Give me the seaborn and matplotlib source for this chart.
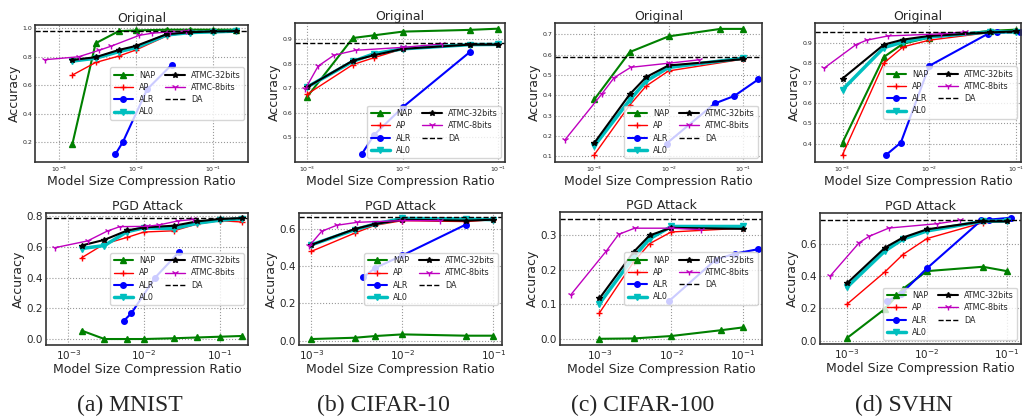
import pandas as pd
import seaborn as sns
import matplotlib.pyplot as plt

# ---- compression ratios (x) ----
mnist_x = [1.5e-3, 3e-3, 6e-3, 1e-2, 2.5e-2, 5e-2, 1e-1, 2e-1]
mnist_alr_x = [5.4e-3, 6.8e-3, 1.4e-2, 2.9e-2]
mnist_8b_x = [6.7e-4, 1.8e-3, 3.3e-3, 4.8e-3, 1.1e-2, 1.6e-2, 2.8e-2, 4.5e-2]

cifar10_x = [1e-3, 3e-3, 5e-3, 1e-2, 5e-2, 1e-1]
cifar10_alr_x = [3.7e-3, 5e-3, 1e-2, 5e-2]
cifar10_8b_x = [9.5e-4, 1.3e-3, 1.9e-3, 3.2e-3, 1e-2, 2.6e-2]

cifar100_x = [1e-3, 3e-3, 5e-3, 1e-2, 1e-1]
cifar100_nap_x = [1e-3, 3e-3, 1e-2, 5e-2, 1e-1]
cifar100_alr_x = [9.4e-3, 4.2e-2, 7.7e-2, 1.63e-1]
cifar100_8b_x = [4e-4, 1.25e-3, 1.85e-3, 3.1e-3, 1e-2, 2.6e-2]

svhn_x = [1e-3, 3e-3, 5e-3, 1e-2, 5e-2, 1e-1]
svhn_alr_x = [3.2e-3, 4.7e-3, 1e-2, 4.8e-2, 6e-2, 1.12e-1]
svhn_8b_x = [6.2e-4, 1.43e-3, 1.9e-3, 3.35e-3, 1.35e-2, 2.6e-2]

# ---- accuracies ----
mnist_orig = dict(
    NAP=[0.19, 0.895, 0.98, 0.985, 0.99, 0.99, 0.99, 0.99],
    AP=[0.672, 0.76, 0.805, 0.848, 0.946, 0.972, 0.972, 0.978],
    ALR=[0.115, 0.204, 0.572, 0.743],
    AL0=[0.77, 0.79, 0.836, 0.864, 0.953, 0.97, 0.975, 0.98],
    A32=[0.778, 0.797, 0.848, 0.876, 0.958, 0.972, 0.978, 0.98],
    A8=[0.78, 0.80, 0.845, 0.875, 0.95, 0.965, 0.975, 0.98],
    DA=0.984)
mnist_pgd = dict(
    NAP=[0.055, 0.0, 0.0, 0.0, 0.005, 0.01, 0.015, 0.02],
    AP=[0.53, 0.62, 0.663, 0.698, 0.706, 0.75, 0.772, 0.763],
    ALR=[0.118, 0.168, 0.40, 0.567],
    AL0=[0.59, 0.61, 0.70, 0.725, 0.72, 0.755, 0.775, 0.785],
    A32=[0.61, 0.647, 0.708, 0.728, 0.739, 0.767, 0.783, 0.789],
    A8=[0.596, 0.64, 0.705, 0.733, 0.735, 0.745, 0.77, 0.78],
    DA=0.789)

cifar10_orig = dict(
    NAP=[0.666, 0.904, 0.915, 0.93, 0.937, 0.942],
    AP=[0.676, 0.796, 0.824, 0.86, 0.877, 0.881],
    ALR=[0.431, 0.51, 0.623, 0.846],
    AL0=[0.705, 0.809, 0.84, 0.86, 0.877, 0.878],
    A32=[0.705, 0.812, 0.834, 0.86, 0.877, 0.877],
    A8=[0.696, 0.79, 0.834, 0.854, 0.866, 0.88],
    DA=0.885)
cifar10_pgd = dict(
    NAP=[0.009, 0.016, 0.025, 0.034, 0.027, 0.027],
    AP=[0.48, 0.578, 0.62, 0.645, 0.64, 0.65],
    ALR=[0.34, 0.39, 0.458, 0.624],
    AL0=[0.515, 0.596, 0.627, 0.657, 0.654, 0.65],
    A32=[0.515, 0.60, 0.627, 0.65, 0.645, 0.65],
    A8=[0.51, 0.588, 0.62, 0.636, 0.645, 0.645],
    DA=0.664)

cifar100_orig = dict(
    NAP=[0.38, 0.613, 0.69, 0.727, 0.727],
    AP=[0.108, 0.352, 0.446, 0.52, 0.578],
    ALR=[0.163, 0.36, 0.397, 0.479],
    AL0=[0.151, 0.377, 0.47, 0.537, 0.583],
    A32=[0.166, 0.405, 0.49, 0.547, 0.578],
    A8=[0.18, 0.405, 0.487, 0.538, 0.558, 0.575],
    DA=0.591)
cifar100_pgd = dict(
    NAP=[0.0, 0.001, 0.008, 0.025, 0.033],
    AP=[0.075, 0.223, 0.276, 0.31, 0.321],
    ALR=[0.11, 0.23, 0.247, 0.26],
    AL0=[0.102, 0.237, 0.29, 0.326, 0.326],
    A32=[0.117, 0.252, 0.30, 0.322, 0.319],
    A8=[0.128, 0.255, 0.303, 0.321, 0.321, 0.317],
    DA=0.347)

svhn_orig = dict(
    NAP=[0.405, 0.829, 0.895, 0.925, 0.958, 0.964],
    AP=[0.345, 0.799, 0.879, 0.912, 0.95, 0.956],
    ALR=[0.345, 0.405, 0.785, 0.945, 0.95, 0.953],
    AL0=[0.667, 0.875, 0.903, 0.928, 0.953, 0.953],
    A32=[0.722, 0.89, 0.915, 0.933, 0.95, 0.956],
    A8=[0.775, 0.89, 0.912, 0.933, 0.943, 0.953],
    DA=0.95)
svhn_pgd = dict(
    NAP=[0.016, 0.197, 0.32, 0.43, 0.457, 0.43],
    AP=[0.225, 0.426, 0.532, 0.631, 0.729, 0.744],
    ALR=[0.246, 0.287, 0.447, 0.744, 0.748, 0.76],
    AL0=[0.33, 0.555, 0.627, 0.678, 0.738, 0.74],
    A32=[0.354, 0.575, 0.637, 0.688, 0.737, 0.737],
    A8=[0.40, 0.606, 0.645, 0.696, 0.723, 0.744],
    DA=0.748)

captions = ["(a) MNIST", "(b) CIFAR-10", "(c) CIFAR-100", "(d) SVHN"]

# name, legend label, color, marker, linewidth, markersize
styles = [
    ("NAP", "NAP", "#008000", "^", 1.5, 4),
    ("AP", "AP", "#ff0000", "+", 1.0, 5),
    ("ALR", "ALR", "#0000ff", "o", 1.5, 4),
    ("AL0", "AL0", "#00bfbf", "v", 2.5, 4),
    ("A32", "ATMC-32bits", "#000000", "*", 1.5, 4),
    ("A8", "ATMC-8bits", "#bf00bf", "1", 1.0, 5),
]

sns.set_theme(style="whitegrid")
plt.rcParams["font.family"] = ["DejaVu Sans"]

W, H = 1026, 419
fig = plt.figure(figsize=(W / 100, H / 100), dpi=100)


def box(l, t, r, b):
    return [l / W, 1 - b / H, (r - l) / W, (b - t) / H]


panels = [
    # data, xs(nap, others, alr, 8b), pixel box, xlim, ylim, yticks, title, legend loc, tick size
    (mnist_orig, (mnist_x, mnist_x, mnist_alr_x, mnist_8b_x), box(35, 25, 248, 162),
     (4.9e-4, 0.285), (0.062, 1.023), [0.2, 0.4, 0.6, 0.8, 1.0], "Original", "center right", 4.5),
    (cifar10_orig, (cifar10_x, cifar10_x, cifar10_alr_x, cifar10_8b_x), box(295, 23, 505, 162),
     (7.43e-4, 0.1175), (0.40, 0.965), [0.5, 0.6, 0.7, 0.8, 0.9], "Original", "lower right", 4.5),
    (cifar100_orig, (cifar100_nap_x, cifar100_x, cifar100_alr_x, cifar100_8b_x), box(555, 23, 762, 162),
     (2.95e-4, 0.182), (0.072, 0.756), [0.1, 0.2, 0.3, 0.4, 0.5, 0.6, 0.7], "Original", "lower right", 4.5),
    (svhn_orig, (svhn_x, svhn_x, svhn_alr_x, svhn_8b_x), box(815, 23, 1021, 162),
     (4.82e-4, 0.114), (0.309, 0.997), [0.4, 0.5, 0.6, 0.7, 0.8, 0.9], "Original", "center right", 4.5),
    (mnist_pgd, (mnist_x, mnist_x, mnist_alr_x, mnist_8b_x), box(46, 213, 248, 345),
     (5.07e-4, 0.237), (-0.039, 0.822), [0.0, 0.2, 0.4, 0.6, 0.8], "PGD Attack", "center right", 7.5),
    (cifar10_pgd, (cifar10_x, cifar10_x, cifar10_alr_x, cifar10_8b_x), box(299, 213, 502, 345),
     (7.31e-4, 0.1247), (-0.023, 0.686), [0.0, 0.2, 0.4, 0.6], "PGD Attack", "center right", 7.5),
    (cifar100_pgd, (cifar100_nap_x, cifar100_x, cifar100_alr_x, cifar100_8b_x), box(560, 212, 762, 345),
     (2.82e-4, 0.185), (-0.018, 0.368), [0.0, 0.1, 0.2, 0.3], "PGD Attack", "center right", 7.5),
    (svhn_pgd, (svhn_x, svhn_x, svhn_alr_x, svhn_8b_x), box(820, 213, 1021, 344),
     (4.62e-4, 0.15), (-0.02, 0.789), [0.0, 0.2, 0.4, 0.6], "PGD Attack", "lower right", 7.5),
]

for data, xs, pos, xlim, ylim, yticks, title, loc, tsize in panels:
    ax = fig.add_axes(pos)
    x_nap, x_all, x_alr, x_8b = xs
    xmap = {"NAP": x_nap, "AP": x_all, "ALR": x_alr, "AL0": x_all, "A32": x_all, "A8": x_8b}
    for key, label, color, marker, lw, ms in styles:
        df = pd.DataFrame({"x": xmap[key], "y": data[key]})
        sns.lineplot(data=df, x="x", y="y", ax=ax, color=color, marker=marker,
                     lw=lw, ms=ms, mec=color, mfc=color, mew=1.0, label=label)
    ax.axhline(data["DA"], color="black", ls="--", lw=1.0, label="DA")
    ax.set_xscale("log")
    ax.set_xlim(*xlim)
    ax.set_ylim(*ylim)
    ax.set_yticks(yticks)
    ax.set_title(title, fontsize=9, pad=2)
    ax.set_xlabel("Model Size Compression Ratio", fontsize=9, labelpad=1)
    ax.set_ylabel("Accuracy", fontsize=9, labelpad=1)
    ax.tick_params(axis="both", which="both", length=0, labelsize=tsize, pad=2)
    ax.grid(True, which="major", color="#999999", ls=":", lw=0.8)
    for s in ax.spines.values():
        s.set_color("#333333")
        s.set_linewidth(1.2)
    ax.legend(ncol=2, loc=loc, fontsize=5.8, columnspacing=1.2, handlelength=2.4,
              framealpha=0.8, borderpad=0.4, labelspacing=0.4)

cap_x = [130, 383, 643, 904]
for cx, cap in zip(cap_x, captions):
    fig.text(cx / W, 1 - 405 / H, cap, ha="center", va="center",
             fontsize=17, family="Liberation Serif")

plt.savefig("out.png", dpi=100)
